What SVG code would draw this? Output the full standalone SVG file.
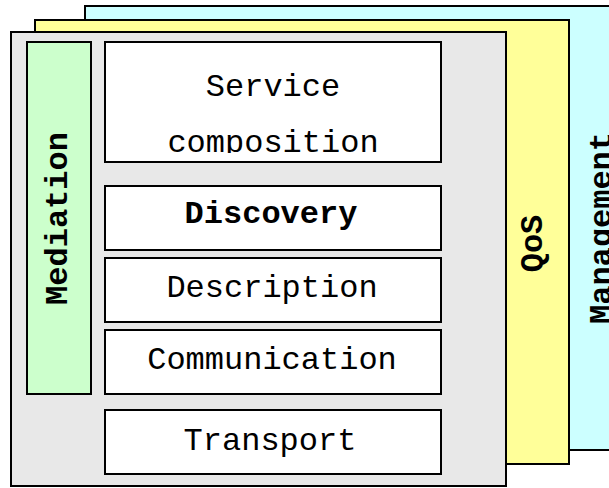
<svg xmlns="http://www.w3.org/2000/svg" width="609" height="488" viewBox="0 0 609 488">
  <style>
    .frame { stroke: #000; stroke-width: 2; }
    .box { fill: #fff; stroke: #000; stroke-width: 2; }
    .t { font-family: "Liberation Mono", "Courier New", monospace; font-size: 32px; fill: #000; text-anchor: middle; }
    .b { font-weight: bold; }
  </style>
  <defs>
    <clipPath id="scclip"><rect x="105" y="42" width="336" height="111"/></clipPath>
  </defs>
  <rect width="609" height="488" fill="#fff"/>
  <g id="management">
    <rect class="frame" x="85" y="6" width="530" height="444" fill="#ccffff"/>
    <text class="t b" transform="translate(611,228) rotate(-90)">Management</text>
  </g>
  <g id="qos">
    <rect class="frame" x="35" y="20" width="534" height="444" fill="#ffff99"/>
    <text class="t b" transform="translate(542,243.5) rotate(-90)">QoS</text>
  </g>
  <g id="core">
    <rect class="frame" x="11" y="32" width="495" height="454" fill="#e8e8e8"/>
  </g>
  <g id="mediation">
    <rect class="frame" x="27" y="42" width="64" height="352" fill="#ccffcc"/>
    <text class="t b" transform="translate(67,218.5) rotate(-90)">Mediation</text>
  </g>
  <g id="service-composition">
    <rect class="box" x="105" y="42" width="336" height="120"/>
    <g clip-path="url(#scclip)">
      <text class="t" x="273" y="96">Service</text>
      <text class="t" x="273" y="152">composition</text>
    </g>
  </g>
  <g id="discovery">
    <rect class="box" x="105" y="186" width="336" height="64"/>
    <text class="t b" x="271" y="223">Discovery</text>
  </g>
  <g id="description">
    <rect class="box" x="105" y="258" width="336" height="64"/>
    <text class="t" x="272" y="297">Description</text>
  </g>
  <g id="communication">
    <rect class="box" x="105" y="330" width="336" height="64"/>
    <text class="t" x="272" y="369">Communication</text>
  </g>
  <g id="transport">
    <rect class="box" x="105" y="410" width="336" height="64"/>
    <text class="t" x="270" y="450">Transport</text>
  </g>
  <g id="connectors"></g>
</svg>
